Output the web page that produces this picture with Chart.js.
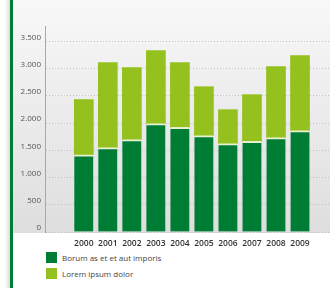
<!DOCTYPE html>
<html>
<head>
<meta charset="utf-8">
<script src="https://cdn.jsdelivr.net/npm/chart.js@4.4.1/dist/chart.umd.min.js"></script>
<style>
  html, body { margin:0; padding:0; background:#fff; width:330px; height:288px; overflow:hidden; }
  #wrap { position:relative; width:330px; height:288px; }
  #shadow { position:absolute; left:5px; top:0; width:5px; height:288px; background:linear-gradient(to right, rgba(220,220,220,0), #dcdcdc); }
  #stripe { position:absolute; left:10px; top:0; width:3px; height:288px; background:#007d34; }
  #bg { position:absolute; left:13px; top:0; width:317px; height:233px; background:linear-gradient(to bottom, #f8f8f8, #dedede); }
  #cv { position:absolute; left:0; top:0; }
  #legend { position:absolute; left:46px; top:252px; font-family:"Open Sans", sans-serif; font-size:8px; color:#444; }
  .item { display:flex; align-items:center; height:11px; margin-bottom:5px; }
  .sw { width:11px; height:11px; margin-right:5px; }
</style>
</head>
<body>
<div id="wrap">
  <div id="shadow"></div>
  <div id="stripe"></div>
  <div id="bg"></div>
  <canvas id="cv" width="330" height="252"></canvas>
  <div id="legend"></div>
</div>
<script>
const categories = ['2000','2001','2002','2003','2004','2005','2006','2007','2008','2009'];
const seriesNames = ['Borum as et et aut imporis', 'Lorem ipsum dolor'];
const darkValues = [1420, 1550, 1697, 1990, 1923, 1770, 1623, 1665, 1733, 1862];
const lightValues = [1012, 1562, 1323, 1342, 1189, 900, 625, 859, 1305, 1378];
const yTicks = [0, 500, 1000, 1500, 2000, 2500, 3000, 3500];
const colors = ['#007d34', '#95c11f'];

function fmt(v) { return String(v).replace(/\B(?=(\d{3})+(?!\d))/g, '.'); }

const ctx = document.getElementById('cv').getContext('2d');
new Chart(ctx, {
  type: 'bar',
  data: {
    datasets: [
      {
        label: seriesNames[0],
        data: darkValues.map((v, i) => ({ x: i, y: v })),
        backgroundColor: colors[0],
        borderColor: 'rgba(232,242,212,0.9)',
        borderWidth: { top: 2, left: 0, right: 0, bottom: 0 },
        borderSkipped: false,
        barThickness: 19
      },
      {
        label: seriesNames[1],
        data: lightValues.map((v, i) => ({ x: i, y: v })),
        backgroundColor: colors[1],
        borderWidth: 0,
        barThickness: 19
      }
    ]
  },
  options: {
    responsive: false,
    animation: false,
    devicePixelRatio: 1,
    layout: { padding: { top: 26, left: 0, right: 0, bottom: 0 } },
    plugins: { legend: { display: false }, tooltip: { enabled: false } },
    scales: {
      x: {
        type: 'linear',
        stacked: true,
        min: -1.022,
        max: 9.655,
        afterBuildTicks: (ax) => { ax.ticks = categories.map((c, i) => ({ value: i })); },
        afterFit: (ax) => { ax.height = 20; },
        grid: { display: false, drawTicks: false },
        border: { display: false },
        ticks: {
          autoSkip: false,
          maxRotation: 0,
          padding: 6,
          color: '#333',
          font: { family: 'Open Sans', size: 8.5, weight: '600' },
          callback: (v) => categories[v] !== undefined ? categories[v] : ''
        }
      },
      y: {
        stacked: true,
        min: 0,
        max: 3785,
        afterBuildTicks: (ax) => { ax.ticks = yTicks.map(v => ({ value: v })); },
        afterFit: (ax) => { ax.width = 45; },
        grid: { color: '#c2c2c2', lineWidth: 1, drawTicks: false },
        border: { display: true, color: '#a8a8a8', width: 1, dash: [1, 2] },
        ticks: {
          padding: 4,
          labelOffset: -4,
          color: '#555',
          font: { family: 'Open Sans', size: 8 },
          callback: (v) => fmt(v)
        }
      }
    }
  }
});

// Legend
const lg = document.getElementById('legend');
seriesNames.forEach((n, i) => {
  const d = document.createElement('div');
  d.className = 'item';
  d.innerHTML = '<div class="sw" style="background:' + colors[i] + '"></div><span>' + n + '</span>';
  lg.appendChild(d);
});
</script>
</body>
</html>
